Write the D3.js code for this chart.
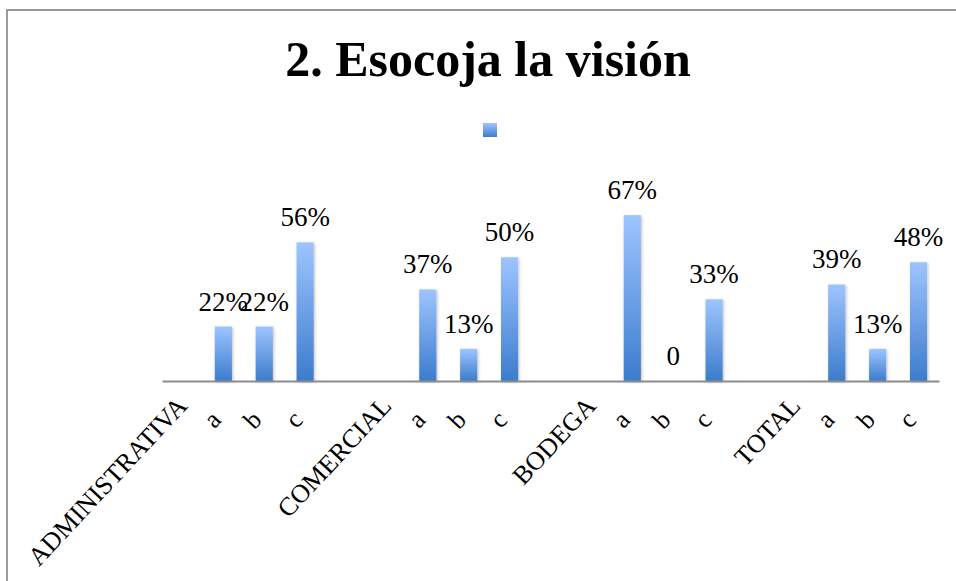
<!DOCTYPE html>
<html>
<head>
<meta charset="utf-8">
<script src="https://cdn.jsdelivr.net/npm/d3@7"></script>
<style>
  body { margin: 0; background: #fff; }
  svg { display: block; }
</style>
</head>
<body>
<svg id="chart"></svg>
<script>
const width = 956, height = 581

// chart data
const title = "2. Esocoja la visión"
const categories = ["ADMINISTRATIVA", "a", "b", "c", "", "COMERCIAL", "a", "b", "c", "",
    "BODEGA", "a", "b", "c", "", "TOTAL", "a", "b", "c"]
const values = [null, 0.22, 0.22, 0.56, null, null, 0.37, 0.13, 0.50, null,
    null, 0.67, 0, 0.33, null, null, 0.39, 0.13, 0.48]

const plot = {left: 162, right: 939, bottom: 381, top: 183}

const svg = d3.select("svg#chart")
    .attr("width", width)
    .attr("height", height)
    .attr("viewBox", [0, 0, width, height])

const defs = svg.append("defs")
const grad = defs.append("linearGradient")
    .attr("id", "barGrad")
    .attr("x1", 0).attr("y1", 0).attr("x2", 0).attr("y2", 1)
grad.append("stop").attr("offset", "0%").attr("stop-color", "#9ec4ff")
grad.append("stop").attr("offset", "100%").attr("stop-color", "#3c7ccc")

const shadow = defs.append("filter")
    .attr("id", "shadow")
    .attr("x", "-50%").attr("y", "-10%").attr("width", "200%").attr("height", "120%")
shadow.append("feDropShadow")
    .attr("dx", 1).attr("dy", 1)
    .attr("stdDeviation", 1.5)
    .attr("flood-color", "#000")
    .attr("flood-opacity", 0.25)

// frame
svg.append("rect")
    .attr("x", 7).attr("y", 10)
    .attr("width", 1000).attr("height", 620)
    .attr("fill", "none")
    .attr("stroke", "#9a9a9a")
    .attr("stroke-width", 2)

// title
svg.append("text")
    .attr("x", 488).attr("y", 76)
    .attr("text-anchor", "middle")
    .attr("font-family", "'Liberation Serif', serif")
    .attr("font-weight", "bold")
    .attr("font-size", 50)
    .text(title)

// legend (single unnamed series)
svg.append("rect")
    .attr("x", 483).attr("y", 123)
    .attr("width", 14).attr("height", 14)
    .attr("fill", "url(#barGrad)")

const xScale = d3.scaleBand()
    .domain(d3.range(categories.length))
    .range([plot.left, plot.right])
    .paddingInner(0.58)
    .paddingOuter(0.29)

const yScale = d3.scaleLinear()
    .domain([0, 0.8])
    .range([plot.bottom, plot.top])

const barsData = values
    .map((v, i) => ({i, v}))
    .filter(d => d.v !== null)

// bars
svg.append("g").classed("bars", true)
    .selectAll("rect")
    .data(barsData.filter(d => d.v > 0))
    .enter()
    .append("rect")
    .attr("x", d => xScale(d.i))
    .attr("y", d => yScale(d.v))
    .attr("width", xScale.bandwidth())
    .attr("height", d => yScale(0) - yScale(d.v))
    .attr("fill", "url(#barGrad)")
    .attr("filter", "url(#shadow)")

// X axis
const xAxis = svg.append("g").classed("x-axis", true)
    .attr("transform", `translate(0, ${plot.bottom})`)
    .call(d3.axisBottom(xScale).tickSize(0).tickSizeOuter(0).tickFormat(i => categories[i]))

xAxis.select(".domain")
    .attr("stroke", "#8c8c8c")
    .attr("stroke-width", 2)

// group names sit a bit higher and further right than the single letters
xAxis.selectAll(".tick text")
    .attr("font-family", "'Liberation Serif', serif")
    .attr("font-size", 26)
    .attr("fill", "#000")
    .attr("text-anchor", "end")
    .attr("dy", 0)
    .attr("y", 0)
    .attr("transform", function (i) {
        const long = categories[i].length > 1
        return `translate(${long ? 6 : -1}, ${long ? 26 : 40}) rotate(-47)`
    })

// value labels
const fmt = d3.format(".0%")
svg.append("g").classed("labels", true)
    .selectAll("text")
    .data(barsData)
    .enter()
    .append("text")
    .attr("x", d => xScale(d.i) + xScale.bandwidth() / 2)
    .attr("y", d => yScale(d.v) - 16)
    .attr("text-anchor", "middle")
    .attr("font-family", "'Liberation Serif', serif")
    .attr("font-size", 27)
    .attr("fill", "#000")
    .text(d => d.v === 0 ? "0" : fmt(d.v))
</script>
</body>
</html>
